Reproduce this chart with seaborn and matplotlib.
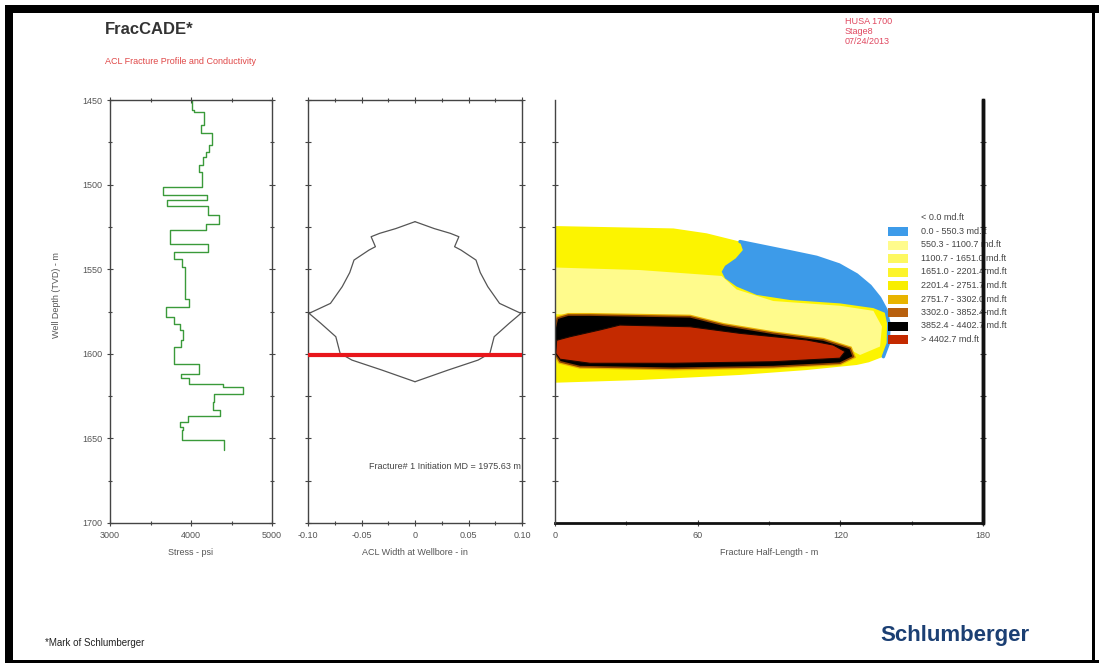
import numpy as np
import pandas as pd
import matplotlib
matplotlib.use("Agg")
import matplotlib.pyplot as plt
from matplotlib.patches import Rectangle
from matplotlib.lines import Line2D
import seaborn as sns

# ---------------- data ----------------
stress_top_depth = [1450, 1455.9, 1456.9, 1464.8, 1469.7, 1476.6, 1480.6, 1483.5, 1488.5, 1492.4,
                    1501.3, 1506.2, 1509.2, 1512.8, 1518.1, 1523.0, 1527.0, 1534.9, 1539.8, 1543.7,
                    1548.7, 1567.4, 1572.4, 1578.3, 1582.2, 1586.2, 1592.1, 1596.0, 1605.9, 1611.8,
                    1614.2, 1617.7, 1619.7, 1623.5, 1628.4, 1633.3, 1636.9, 1640.2, 1643.1, 1645.1,
                    1651.0]
stress_bottom_depth = 1656.9
stress_psi = [4010, 4040, 4155, 4120, 4260, 4227, 4186, 4144, 4103, 4136,
              3660, 4202, 3700, 4210, 4350, 4186, 3742, 4210, 3792, 3887,
              3928, 3977, 3691, 3784, 3866, 3907, 3875, 3796, 4093, 3875,
              3979, 4400, 4640, 4278, 4270, 4361, 3969, 3860, 3907, 3887,
              4402]

width_depth = [1521.9, 1526.0, 1528.8, 1530.8, 1536.7, 1538.7, 1544.6, 1552.0, 1560.3, 1570.2,
               1576.1, 1582.0, 1589.9, 1599.7, 1603.7, 1609.6, 1616.5]
width_in = [0.0, 0.018, 0.033, 0.041, 0.037, 0.043, 0.057, 0.061, 0.068, 0.079,
            0.099, 0.088, 0.074, 0.070, 0.059, 0.031, 0.0]
perf_depth = 1601.0

# conductivity zones (half-length m, depth m)
env_L = [0, 49.8, 63.8, 77.8, 98.8, 110.0, 119.5, 126.9, 132.5, 136.5, 139.2, 140.4, 140.2, 138.1,
         132.0, 126.9, 105.8, 77.8, 35.7, 0]
env_D = [1524.5, 1525.9, 1528.8, 1533.7, 1539.7, 1543.0, 1547.5, 1553.4, 1560.0, 1567.0, 1574.0,
         1582.0, 1593.8, 1601.7, 1605.0, 1606.6, 1609.6, 1612.5, 1615.5, 1617.1]
blue_L = [77.8, 79.0, 76.0, 71.5, 70.1, 71.5, 76.4, 84.8, 98.8, 119.8, 133.9, 139.2, 136.5, 132.5,
          126.9, 119.5, 110.0, 98.8]
blue_D = [1533.7, 1538.7, 1543.6, 1548.0, 1551.5, 1555.4, 1560.3, 1565.2, 1568.2, 1570.2, 1573.0, 1576.0,
          1567.0, 1560.0, 1553.4, 1547.5, 1543.0, 1539.7]
pale_L = [0, 35.7, 70.1, 76.4, 91.8, 119.8, 133.9, 137.5, 136.7, 128.3, 119.8, 91.8, 49.8, 0]
pale_D = [1549.0, 1550.5, 1554.0, 1562.0, 1568.8, 1571.6, 1574.6, 1583.9, 1595.7, 1600.7, 1594.5, 1590.5,
          1580.5, 1576.5]
black_L = [1.0, 5.6, 14.7, 56.8, 70.8, 91.8, 112.8, 124.1, 125.5, 119.8, 91.8, 49.8, 10.5, 2.1, 0, 0]
black_D = [1579.0, 1577.1, 1577.1, 1578.1, 1583.0, 1587.9, 1591.8, 1596.8, 1601.7, 1605.6, 1607.6,
           1608.6, 1607.6, 1604.7, 1599.7, 1585.0]
red_L = [0.7, 6.3, 18.9, 27.3, 56.8, 77.8, 105.8, 117.0, 122.0, 119.8, 91.8, 49.8, 14.7, 2.1, 0.3]
red_D = [1592.0, 1589.9, 1585.9, 1583.0, 1584.0, 1587.9, 1591.8, 1594.8, 1598.7, 1602.6, 1604.7, 1605.6,
         1605.6, 1603.2, 1599.7]

legend_labels = ["< 0.0 md.ft", "0.0 - 550.3 md.ft", "550.3 - 1100.7 md.ft", "1100.7 - 1651.0 md.ft",
                 "1651.0 - 2201.4 md.ft", "2201.4 - 2751.7 md.ft", "2751.7 - 3302.0 md.ft",
                 "3302.0 - 3852.4 md.ft", "3852.4 - 4402.7 md.ft", "> 4402.7 md.ft"]
legend_colors = [None, "#3d9be9", "#fffb8c", "#fdf860", "#fcf42a", "#f8ee00", "#e8b400", "#b8600e",
                 "#000000", "#c42a00"]

# ---------------- style ----------------
sns.set_style("white")
plt.rcParams['font.family'] = ['Liberation Sans', 'DejaVu Sans']
TXT = "#555555"
AX = "#444444"

W, H = 1099, 664
fig = plt.figure(figsize=(W / 100, H / 100), dpi=100)

def rect(x0, y0, x1, y1):
    return [x0 / W, 1 - y1 / H, (x1 - x0) / W, (y1 - y0) / H]

ax1 = fig.add_axes(rect(110, 100, 272, 523))
ax2 = fig.add_axes(rect(308, 100, 522, 523))
ax3 = fig.add_axes(rect(555, 100, 983, 523))

tick_kw = dict(direction='inout', length=4, width=0.8, colors=AX, labelcolor=TXT, labelsize=6.5)

# ---- panel 1: stress ----
xs, ys = [], []
bottoms = stress_top_depth[1:] + [stress_bottom_depth]
for s, t, b in zip(stress_psi, stress_top_depth, bottoms):
    xs += [s, s]
    ys += [t, b]
df1 = pd.DataFrame({"stress": xs, "depth": ys})
sns.lineplot(data=df1, x="stress", y="depth", sort=False, estimator=None, color="#3a9a3a", lw=1.0, ax=ax1)
ax1.set_xlim(3000, 5000)
ax1.set_ylim(1700, 1450)
ax1.set_xticks([3000, 4000, 5000])
ax1.set_xticks([3500, 4500], minor=True)
ax1.set_xticklabels(["3000", "4000", "5000"])
ax1.set_yticks(np.arange(1450, 1701, 50))
ax1.set_yticks(np.arange(1475, 1700, 50), minor=True)
ax1.tick_params(which='both', top=True, right=True, bottom=True, left=True, **tick_kw)
ax1.tick_params(which='minor', length=3)
ax1.set_xlabel("Stress - psi", fontsize=6.5, color=TXT, labelpad=6)
ax1.set_ylabel("Well Depth (TVD) - m", fontsize=6.5, color=TXT)
ax1.yaxis.set_label_coords(-0.30, 0.54)

# ---- panel 2: width ----
wd = list(width_depth)
right_x = list(width_in)
left_x = [-w for w in width_in]
df2 = pd.DataFrame({"w": right_x + left_x[::-1], "depth": wd + wd[::-1],
                    "side": ["r"] * len(wd) + ["l"] * len(wd)})
sns.lineplot(data=df2, x="w", y="depth", sort=False, estimator=None, color="#555555", lw=0.9, ax=ax2,
             units="side")
ax2.axhline(perf_depth, color="#e8161b", lw=3, zorder=5)
ax2.set_xlim(-0.1, 0.1)
ax2.set_ylim(1700, 1450)
ax2.set_xticks([-0.1, -0.05, 0, 0.05, 0.1])
ax2.set_xticklabels(["-0.10", "-0.05", "0", "0.05", "0.10"])
ax2.set_xticks(np.arange(-0.075, 0.1, 0.05), minor=True)
ax2.set_yticks(np.arange(1450, 1701, 25))
ax2.set_yticklabels([])
ax2.tick_params(which='both', top=True, right=True, bottom=True, left=True, **tick_kw)
ax2.tick_params(which='minor', length=3)
ax2.set_xlabel("ACL Width at Wellbore - in", fontsize=6.5, color=TXT, labelpad=6)
ax2.set_ylabel("")
ax2.text(0.099, 1666.5, "Fracture# 1 Initiation MD = 1975.63 m", ha='right', va='center',
         fontsize=6.5, color="#444444")

for ax in (ax1, ax2):
    for sp in ax.spines.values():
        sp.set_color(AX)
        sp.set_linewidth(1.0)

# ---- panel 3: conductivity ----
ax3.fill(env_L, env_D, facecolor="#fcf400", edgecolor="none", zorder=2)
ax3.plot(env_L[3:14], env_D[3:14], color="#3d9be9", lw=2.5, zorder=3, solid_capstyle='round')
ax3.fill(blue_L, blue_D, facecolor="#3d9be9", edgecolor="none", zorder=3)
ax3.fill(pale_L, pale_D, facecolor="#fffb8c", edgecolor="none", zorder=3)
ax3.fill(black_L, black_D, facecolor="#000000", edgecolor="#eab000", lw=3.0, zorder=4)
ax3.fill(black_L, black_D, facecolor="#000000", edgecolor="#8a4000", lw=1.2, zorder=4)
ax3.fill(red_L, red_D, facecolor="#c42a00", edgecolor="#1a0800", lw=0.8, zorder=5)
ax3.set_xlim(0, 180)
ax3.set_ylim(1700, 1450)
ax3.set_xticks([0, 60, 120, 180])
ax3.set_xticks([30, 90, 150], minor=True)
ax3.set_yticks(np.arange(1475, 1700, 25))
ax3.set_yticklabels([])
ax3.tick_params(which='both', top=False, right=True, bottom=True, left=True, **tick_kw)
ax3.tick_params(which='minor', length=3)
ax3.set_xlabel("Fracture Half-Length - m", fontsize=6.5, color=TXT, labelpad=6)
ax3.spines['top'].set_visible(False)
ax3.spines['left'].set_color(AX)
ax3.spines['left'].set_linewidth(1.0)
ax3.spines['left'].set_zorder(6)
ax3.spines['bottom'].set_color("#111111")
ax3.spines['bottom'].set_linewidth(2.0)
ax3.spines['right'].set_color("#111111")
ax3.spines['right'].set_linewidth(2.5)

# legend (figure level, spine drawn on top)
for i, (lab, col) in enumerate(zip(legend_labels, legend_colors)):
    yc = 218 + 13.5 * i
    if col is not None:
        fig.patches.append(Rectangle((888 / W, 1 - (yc + 4.5) / H), 20 / W, 9 / H,
                                     transform=fig.transFigure, facecolor=col, edgecolor="none", zorder=3))
    fig.text(921 / W, 1 - yc / H, lab, fontsize=6.5, color="#444444", va='center', ha='left', zorder=3)
fig.lines.append(Line2D([983 / W, 983 / W], [1 - 100 / H, 1 - 523 / H], transform=fig.transFigure,
                        color="#111111", lw=2.5, zorder=6))

# ---- header / footer ----
fig.text(105 / W, 1 - 30 / H, "FracCADE*", fontsize=12, fontweight='bold', color="#333333", va='center')
fig.text(105 / W, 1 - 62 / H, "ACL Fracture Profile and Conductivity", fontsize=6.5, color="#e04848",
         va='center')
for j, line in enumerate(["HUSA 1700", "Stage8", "07/24/2013"]):
    fig.text(845 / W, 1 - (22 + 9.5 * j) / H, line, fontsize=6.5, color="#e04860", va='center')
fig.text(45 / W, 1 - 643 / H, "*Mark of Schlumberger", fontsize=7, color="#222222", va='center')
fig.text(880 / W, 1 - 635 / H, "Schlumberger", fontsize=16, fontweight='bold', color="#1b3f73",
         va='center')

# black frame
for (x0, y0, x1, y1) in [(5, 5, 1099, 13), (5, 5, 13, 663), (5, 660, 1099, 663), (1092, 5, 1095, 663)]:
    fig.patches.append(Rectangle((x0 / W, 1 - y1 / H), (x1 - x0) / W, (y1 - y0) / H,
                                 transform=fig.transFigure, facecolor="black", edgecolor="none", zorder=10))

fig.savefig("out.png", dpi=100)
